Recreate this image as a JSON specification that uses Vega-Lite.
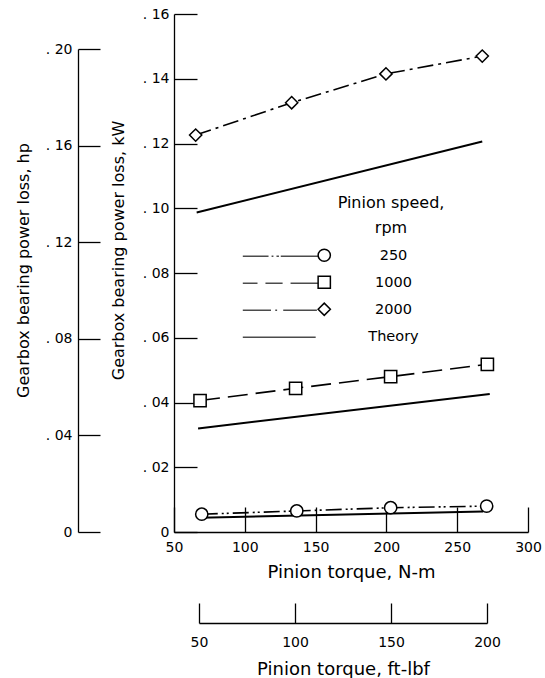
{
  "$schema": "https://vega.github.io/schema/vega-lite/v6.json",
  "width": 354,
  "height": 518,
  "autosize": "none",
  "padding": {"left": 174, "top": 14, "right": 17, "bottom": 146},
  "background": "white",
  "config": {
    "font": "DejaVu Sans",
    "view": {"stroke": null},
    "axis": {
      "grid": false,
      "labelFlush": false,
      "domainColor": "black",
      "tickColor": "black",
      "labelColor": "black",
      "titleColor": "black",
      "labelFont": "DejaVu Sans",
      "titleFont": "DejaVu Sans",
      "titleFontWeight": "normal",
      "labelFontSize": 14,
      "domainWidth": 1.3,
      "tickWidth": 1.3
    },
    "legend": {
      "labelFont": "DejaVu Sans",
      "titleFont": "DejaVu Sans",
      "labelColor": "black",
      "titleColor": "black"
    }
  },
  "datasets": {
    "measured": [
      {"torque": 65.3, "loss": 0.1226, "speed": "2000"},
      {"torque": 133.1, "loss": 0.1326, "speed": "2000"},
      {"torque": 199.7, "loss": 0.1415, "speed": "2000"},
      {"torque": 267.7, "loss": 0.1470, "speed": "2000"},
      {"torque": 68.4, "loss": 0.0406, "speed": "1000"},
      {"torque": 135.9, "loss": 0.0444, "speed": "1000"},
      {"torque": 203.0, "loss": 0.0480, "speed": "1000"},
      {"torque": 271.3, "loss": 0.0518, "speed": "1000"},
      {"torque": 69.6, "loss": 0.0055, "speed": "250"},
      {"torque": 136.7, "loss": 0.0065, "speed": "250"},
      {"torque": 203.0, "loss": 0.0075, "speed": "250"},
      {"torque": 270.8, "loss": 0.0080, "speed": "250"}
    ],
    "theory": [
      {"torque": 66.0, "loss": 0.0987, "speed": "2000"},
      {"torque": 267.7, "loss": 0.1206, "speed": "2000"},
      {"torque": 67.0, "loss": 0.0320, "speed": "1000"},
      {"torque": 273.0, "loss": 0.0426, "speed": "1000"},
      {"torque": 68.4, "loss": 0.0044, "speed": "250"},
      {"torque": 268.3, "loss": 0.0063, "speed": "250"}
    ]
  },
  "layer": [
    {
      "encoding": {
        "x": {
          "field": "torque",
          "type": "quantitative",
          "scale": {"domain": [50, 300], "nice": false, "zero": false},
          "axis": {
            "orient": "bottom",
            "title": "Pinion torque, N-m",
            "values": [50, 100, 150, 200, 250, 300],
            "tickSize": -25,
            "labelPadding": 33,
            "titleFontSize": 18,
            "titlePadding": 9
          }
        },
        "y": {
          "field": "loss",
          "type": "quantitative",
          "scale": {"domain": [0, 0.16], "nice": false},
          "axis": {
            "orient": "left",
            "title": "Gearbox bearing power loss, kW",
            "values": [0, 0.02, 0.04, 0.06, 0.08, 0.1, 0.12, 0.14, 0.16],
            "labelExpr": "datum.value == 0 ? '0' : '. ' + slice(format(datum.value, '.2f'), 2)",
            "tickSize": -23,
            "labelPadding": 28,
            "titleFontSize": 16,
            "titlePadding": 16,
            "titleY": 236
          }
        }
      },
      "layer": [
        {
          "data": {"name": "theory"},
          "mark": {"type": "line", "stroke": "black", "strokeWidth": 2},
          "encoding": {"detail": {"field": "speed"}}
        },
        {
          "data": {"name": "measured"},
          "mark": {"type": "line", "stroke": "black", "strokeWidth": 1.6},
          "encoding": {
            "strokeDash": {
              "field": "speed",
              "type": "nominal",
              "scale": {
                "domain": ["250", "1000", "2000"],
                "range": [[16, 4, 2, 3, 2, 4], [20, 8], [16, 5, 3, 5]]
              },
              "legend": null
            }
          }
        },
        {
          "data": {"name": "measured"},
          "mark": {"type": "point", "fill": "white", "stroke": "black", "strokeWidth": 1.5, "size": 150, "opacity": 1},
          "encoding": {
            "shape": {
              "field": "speed",
              "type": "nominal",
              "scale": {
                "domain": ["250", "1000", "2000"],
                "range": ["circle", "square", "diamond"]
              },
              "legend": {
                "title": ["Pinion speed,", "rpm"],
                "orient": "none",
                "legendX": 143,
                "legendY": 181,
                "symbolSize": 150,
                "labelAlign": "left",
                "labelOffset": 96,
                "labelOpacity": 0,
                "labelFontSize": 14.5,
                "titleFontSize": 16,
                "titleFontWeight": "normal",
                "titleAlign": "center",
                "titleAnchor": "middle",
                "titleLineHeight": 25,
                "titlePadding": 12,
                "rowPadding": 8
              }
            }
          }
        }
      ]
    },
    {
      "data": {"values": [{}]},
      "mark": {"type": "point", "opacity": 0},
      "encoding": {
        "x": {
          "datum": 100,
          "type": "quantitative",
          "scale": {"domain": [50, 200], "range": [25, 313], "nice": false, "zero": false},
          "axis": {
            "orient": "bottom",
            "offset": 91,
            "title": "Pinion torque, ft-lbf",
            "values": [50, 100, 150, 200],
            "tickSize": -20,
            "labelPadding": 32,
            "titleFontSize": 18,
            "titlePadding": 11
          }
        },
        "y": {
          "datum": 0.1,
          "type": "quantitative",
          "scale": {"domain": [0, 0.2], "range": [518, 35], "nice": false},
          "axis": {
            "orient": "left",
            "offset": 96,
            "title": "Gearbox bearing power loss, hp",
            "values": [0, 0.04, 0.08, 0.12, 0.16, 0.2],
            "labelExpr": "datum.value == 0 ? '0' : '. ' + slice(format(datum.value, '.2f'), 2)",
            "tickSize": -22,
            "labelPadding": 28,
            "titleFontSize": 16,
            "titlePadding": 14,
            "titleY": 256
          }
        }
      }
    },
    {
      "data": {"name": "measured"},
      "transform": [{"filter": "false"}],
      "mark": {"type": "point", "fill": "white", "stroke": "black", "strokeWidth": 1.6, "size": 150},
      "encoding": {
        "shape": {
          "field": "speed",
          "type": "nominal",
          "scale": {
            "domain": ["250", "1000", "2000", "Theory"],
            "range": [
              "M-13.3,0H-9.1M-8.6,0H-8.3M-7.8,0H-7.4M-7.1,0H-1",
              "M-13.3,0H-10.9M-9.6,0H-6.8M-5.5,0H-1",
              "M-13.3,0H-8.7M-8.0,0H-7.7M-6.7,0H-1.2",
              "M-13.3,0H-1.4"
            ]
          },
          "legend": {
            "title": null,
            "orient": "none",
            "legendX": 143,
            "legendY": 235,
            "symbolSize": 150,
            "labelAlign": "center",
            "labelOffset": 62,
            "labelFontSize": 14.5,
            "rowPadding": 12
          }
        }
      }
    }
  ],
  "resolve": {"scale": {"x": "independent", "y": "independent", "shape": "independent"}}
}
